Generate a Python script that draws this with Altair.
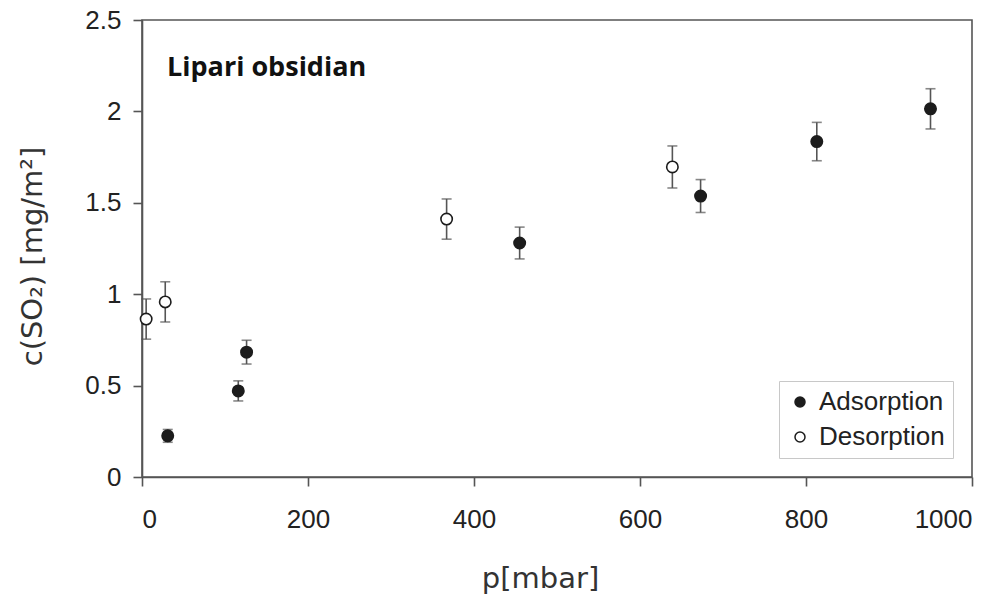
import altair as alt
import pandas as pd

# Adsorption series
ads_p = [31, 116, 126, 455, 673, 813, 950]
ads_c = [0.225, 0.471, 0.683, 1.28, 1.537, 1.835, 2.014]
ads_err = [0.035, 0.055, 0.065, 0.087, 0.09, 0.105, 0.11]

# Desorption series
des_p = [5, 28, 367, 639]
des_c = [0.864, 0.958, 1.411, 1.696]
des_err = [0.11, 0.11, 0.11, 0.115]

series_names = ["Adsorption", "Desorption"]
x_ticks = [0, 200, 400, 600, 800, 1000]
y_ticks = [0, 0.5, 1, 1.5, 2, 2.5]

rows = []
for p, c, e in zip(ads_p, ads_c, ads_err):
    rows.append({"p": p, "c": c, "lo": c - e, "hi": c + e, "series": "Adsorption"})
for p, c, e in zip(des_p, des_c, des_err):
    rows.append({"p": p, "c": c, "lo": c - e, "hi": c + e, "series": "Desorption"})
df = pd.DataFrame(rows)

ink = "#1c1c1c"
axis_col = "#555555"

x_enc = alt.X("p:Q", scale=alt.Scale(domain=[0, 1000], nice=False, zero=False),
              axis=alt.Axis(values=x_ticks, title="p[mbar]", format="d",
                            labelPadding=20, titleX=398, titleY=110,
                            titleBaseline="alphabetic", titleAlign="center"))

base = alt.Chart(df)

err_rule = base.mark_rule(color=axis_col, strokeWidth=1.6).encode(
    x=x_enc,
    y=alt.Y("lo:Q"),
    y2="hi:Q",
)
cap_lo = base.mark_tick(orient="horizontal", color=axis_col, size=10, thickness=1.6).encode(
    x="p:Q", y="lo:Q")
cap_hi = base.mark_tick(orient="horizontal", color=axis_col, size=10, thickness=1.6).encode(
    x="p:Q", y="hi:Q")

points = base.mark_point(shape="circle", size=130, strokeWidth=1.6, stroke=ink, opacity=1).encode(
    x="p:Q",
    y=alt.Y("c:Q", scale=alt.Scale(domain=[0, 2.5], nice=False),
            axis=alt.Axis(values=y_ticks, title="c(SO\u2082) [mg/m\u00b2]", format="~g",
                          labelPadding=12, titleAngle=270, titleX=-110, titleY=236,
                          titleBaseline="middle", titleAlign="center")),
    fill=alt.Fill("series:N",
                  scale=alt.Scale(domain=series_names, range=[ink, "white"]),
                  legend=alt.Legend(title=None, orient="none", legendX=637, legendY=361,
                                    padding=8, strokeColor="#c8c8c8", fillColor="white",
                                    labelFontSize=26, labelFont="Liberation Sans",
                                    labelColor="#222222",
                                    symbolSize=100, symbolType="circle",
                                    symbolStrokeColor=ink, symbolStrokeWidth=1.5,
                                    rowPadding=9, labelOffset=6)),
)

chart = alt.layer(err_rule, cap_lo, cap_hi, points).properties(
    width=830,
    height=457,
    autosize=alt.AutoSizeParams(type="none"),
    padding={"left": 142, "top": 20, "right": 36, "bottom": 124},
    title=alt.TitleParams("Lipari obsidian", anchor="start", dx=25, dy=96, offset=0,
                          baseline="alphabetic", font="Open Sans", fontSize=27,
                          fontWeight="bold", color="#111111"),
).configure_view(
    stroke=axis_col, strokeWidth=1.6
).configure_axis(
    grid=False, domainColor=axis_col, domainWidth=1.6, tickColor=axis_col,
    tickWidth=1.6, tickSize=9, labelFont="Liberation Sans", labelFontSize=26,
    labelColor="#222222", titleFont="DejaVu Sans", titleFontSize=29,
    titleFontWeight="normal", titleColor="#333333",
).configure_title(frame="group")

chart.save("out.html", embed_options={"renderer": "svg", "actions": False})
